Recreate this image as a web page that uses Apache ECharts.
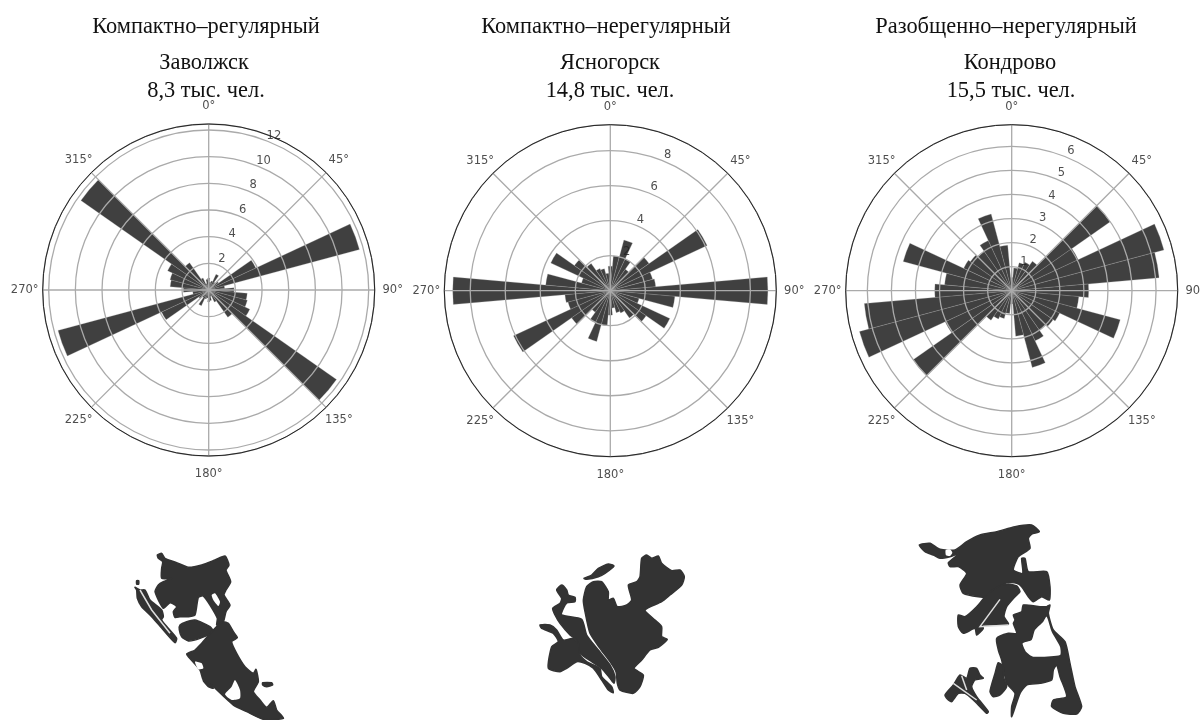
<!DOCTYPE html>
<html>
<head>
<meta charset="utf-8">
<title>Ориентация улиц</title>
<script src="https://cdn.jsdelivr.net/npm/echarts@6/dist/echarts.min.js"></script>
<style>
  html, body { margin: 0; padding: 0; background: #fff; }
  #chart { width: 1201px; height: 720px; }
</style>
</head>
<body>
<div id="chart"></div>
<script>
// bins of 10 degrees, bin 0 is centered on north
const bins = ['0', '10', '20', '30', '40', '50', '60', '70', '80', '90', '100', '110',
  '120', '130', '140', '150', '160', '170', '180', '190', '200', '210', '220', '230',
  '240', '250', '260', '270', '280', '290', '300', '310', '320', '330', '340', '350']

const zavolzhsk = [0.9, 0.6, 0.7, 1.3, 0.7, 0.9, 3.9, 11.7, 1.2, 1.9, 2.9, 3.0,
  3.4, 11.7, 2.5, 1.0, 0.5, 0.8, 0.9, 0.6, 0.7, 1.3, 0.7, 0.9,
  3.9, 11.7, 1.2, 1.9, 2.9, 3.0, 3.4, 11.7, 2.5, 1.0, 0.5, 0.8]
const yasnogorsk = [1.4, 2.0, 3.0, 2.0, 1.5, 2.7, 6.1, 2.5, 2.6, 9.0, 3.7, 1.7,
  3.75, 2.5, 1.9, 1.4, 1.3, 1.0, 1.4, 2.0, 3.0, 2.0, 1.5, 2.7,
  6.1, 2.5, 2.6, 9.0, 3.7, 1.7, 3.75, 2.5, 1.9, 1.4, 1.3, 1.0]
const kondrovo = [0.55, 0.95, 1.2, 1.3, 1.5, 5.0, 3.05, 6.55, 6.15, 3.2, 2.8, 4.67,
  2.2, 2.1, 2.0, 2.3, 3.3, 1.9, 0.55, 0.95, 1.2, 1.3, 1.5, 5.0,
  3.05, 6.55, 6.15, 3.2, 2.8, 4.67, 2.2, 2.1, 2.0, 2.3, 3.3, 1.9]

const angleTicks = [0, 45, 90, 135, 180, 225, 270, 315]
const zavolzhskTicks = [2, 4, 6, 8, 10, 12]
const yasnogorskTicks = [2, 4, 6, 8]
const kondrovoTicks = [1, 2, 3, 4, 5, 6]

// подписи над диаграммами: текст, центр по x, центр по y
const titleLines = [
  ['Компактно–регулярный', 206, 26], ['Заволжск', 204, 62], ['8,3 тыс. чел.', 206, 90],
  ['Компактно–нерегулярный', 606, 26], ['Ясногорск', 610, 62], ['14,8 тыс. чел.', 610, 90],
  ['Разобщенно–нерегулярный', 1006, 26], ['Кондрово', 1010, 62], ['15,5 тыс. чел.', 1011, 90],
]

const panels = [
  { values: zavolzhsk, ticks: zavolzhskTicks, step: 2, max: 12.45, cx: 208.7, cy: 290 },
  { values: yasnogorsk, ticks: yasnogorskTicks, step: 2, max: 9.48, cx: 610.3, cy: 290.7 },
  { values: kondrovo, ticks: kondrovoTicks, step: 1, max: 6.9, cx: 1011.7, cy: 290.7 },
]

// силуэты городов, контуры (в координатах кропа, масштаб 3)
const maps = [
  {
    x: 120, y: 510,
    dark: [
      [112,135,125,130,135,145,170,158,205,172,245,165,285,150,315,138,327,165,318,180,332,215,318,240,312,255,330,285,318,305,310,335,290,345,292,325,270,285,250,258,235,262,225,315,205,320,180,320,165,322,160,305,170,290,150,278,130,295,105,245,115,225,130,215,155,205,125,205,125,175,128,155,115,145],
      [180,345,200,335,225,330,270,350,280,365,240,385,205,393,185,380,178,360],
      [310,335,325,340,340,365,352,383,335,395,350,430,375,470,400,490,408,478,415,515,400,545,420,570,440,592,460,572,470,600,490,625,430,628,380,605,340,585,312,560,280,530,250,510,240,480,205,440,200,432,225,420,240,405,275,365,295,345],
      [250,512,275,525,280,535,265,530],
      [428,518,455,518,458,525,440,530,428,525],
      [45,232,60,240,75,240,90,270,125,300,130,320,125,330,145,355,170,385,165,398,130,360,95,320,65,290,52,265,50,240],
      [50,212,56,212,56,222,50,222],
    ],
    light: [
      [275,255,285,250,300,275,295,288,280,270],
      [345,510,360,540,360,565,335,570,315,553,335,530],
      [225,455,245,460,250,475,235,478],
    ],
    lines: [[60,240,95,300,150,370]],
  },
  {
    x: 530, y: 540,
    dark: [
      [165,215,160,180,170,140,190,125,215,125,235,155,235,180,250,175,262,200,290,195,305,180,295,135,320,125,330,110,335,55,350,45,365,55,385,48,395,70,425,92,450,90,463,110,455,135,420,165,395,185,345,210,375,240,395,260,395,290,412,298,385,322,360,330,335,360,312,385,340,405,330,440,310,460,270,450,262,430,258,395,240,365,210,325,180,280],
      [80,150,95,135,110,150,115,165,135,172,135,185,112,188,100,205,95,225,155,238,170,285,205,330,240,375,255,410,252,430,240,415,215,385,185,365,150,340,140,300,120,285,90,250,75,225,68,205,90,190,95,175],
      [30,255,60,255,80,270,100,300,130,295,145,310,150,345,170,365,210,385,215,410,245,440,250,458,235,450,215,420,190,385,165,370,140,365,110,385,90,395,55,385,65,320,85,305,70,280,35,265],
      [162,115,185,105,205,85,235,72,252,78,225,100,205,110,170,118],
    ],
    light: [],
    lines: [],
  },
  {
    x: 900, y: 510,
    dark: [
      [58,105,90,100,120,118,165,120,200,95,240,75,290,65,345,50,395,45,418,65,395,72,385,85,390,115,355,140,340,180,368,190,365,145,375,145,385,185,440,185,450,230,448,270,425,260,400,275,385,260,365,230,350,220,320,218,295,235,270,260,235,260,190,250,180,225,200,190,175,170,150,170,145,158,178,130,150,140,120,145,100,135,75,125],
      [175,315,195,320,230,290,260,255,295,230,325,222,350,228,360,245,345,260,320,290,312,320,325,342,245,345,250,355,230,375,225,355,190,370,175,350],
      [340,315,365,305,370,285,420,290,440,290,450,285,445,310,460,360,495,395,510,460,525,530,545,590,530,612,490,610,455,590,460,570,500,560,480,500,470,465,460,480,455,510,420,520,380,525,360,550,335,620,335,590,345,550,320,520,305,450,295,420,290,385,325,370,350,370,340,340,345,330],
      [270,545,285,490,295,458,310,470,310,500,320,530,300,555,280,560],
      [135,555,160,525,180,495,200,505,210,475,230,475,240,495,250,505,225,510,215,530,230,560,265,605,260,610,220,570,195,550,175,550,155,575,145,570],
    ],
    light: [
      [368,400,395,390,405,360,430,335,440,320,455,365,480,410,480,435,400,440,378,425],
      [137,120,150,118,157,128,150,138,138,136],
    ],
    lines: [[300,268,240,350,325,345], [160,520,230,570], [185,497,200,540]],
  },
]

function toPoints (m, flat) {
  const pts = []
  for (let i = 0; i < flat.length; i += 2) {
    pts.push([m.x + flat[i] / 3, m.y + flat[i + 1] / 3])
  }
  return pts
}

const labelStyle = { color: '#222', fontSize: 11.5, fontFamily: 'DejaVu Sans' }

const polar = []
const angleAxis = []
const radiusAxis = []
const series = []

panels.forEach((p, i) => {
  // первый polar: сетка и подписи, второй: столбцы (бины центрированы на 0, 10, 20...)
  const gridIndex = i * 2
  const barIndex = i * 2 + 1
  polar.push({ center: [p.cx, p.cy], radius: 166 }, { center: [p.cx, p.cy], radius: 166 })

  angleAxis.push({
    polarIndex: gridIndex,
    type: 'value',
    min: 0,
    max: 360,
    interval: 45,
    startAngle: 90,
    z: 5,
    axisLine: { lineStyle: { color: '#222', width: 1 } },
    axisTick: { show: false },
    axisLabel: { show: false },
    splitLine: { lineStyle: { color: '#aaa', width: 1.3 } },
  }, {
    polarIndex: barIndex,
    type: 'category',
    data: bins,
    startAngle: 95,
    show: false,
  })

  radiusAxis.push({
    polarIndex: gridIndex,
    type: 'value',
    min: 0,
    max: p.max,
    interval: p.step,
    z: 5,
    axisLine: { show: false },
    axisTick: { show: false },
    axisLabel: { show: false },
    splitLine: { lineStyle: { color: '#aaa', width: 1.3 } },
  }, {
    polarIndex: barIndex,
    type: 'value',
    min: 0,
    max: p.max,
    show: false,
  })

  series.push({
    type: 'bar',
    coordinateSystem: 'polar',
    polarIndex: barIndex,
    data: p.values,
    barWidth: '100%',
    barCategoryGap: '0%',
    z: 2,
    silent: true,
    itemStyle: { color: '#404040', borderColor: 'rgba(170,170,170,0.5)', borderWidth: 0.5 },
  }, {
    // подписи радиуса, как в matplotlib, лежат на луче 23 градуса
    type: 'scatter',
    coordinateSystem: 'polar',
    polarIndex: gridIndex,
    data: p.ticks.map(t => [t, 23]),
    symbolSize: 0,
    z: 8,
    silent: true,
    label: {
      show: true,
      position: 'inside',
      offset: [2.7, -6.5],
      formatter: d => d.value[0],
      ...labelStyle,
    },
  }, {
    // подписи углов центрированы на одном расстоянии от окружности
    type: 'scatter',
    coordinateSystem: 'polar',
    polarIndex: gridIndex,
    data: angleTicks.map(a => ({
      value: [p.max, a],
      label: {
        offset: [18 * Math.sin(a * Math.PI / 180), -18 * Math.cos(a * Math.PI / 180)],
      },
    })),
    symbolSize: 0,
    z: 8,
    silent: true,
    label: {
      show: true,
      position: 'inside',
      formatter: d => d.value[1] + '°',
      ...labelStyle,
    },
  })
})

const graphicEls = []
maps.forEach(m => {
  m.dark.forEach(flat => {
    graphicEls.push({
      type: 'polygon',
      shape: { points: toPoints(m, flat), smooth: 0.2 },
      style: { fill: '#333', stroke: '#333', lineWidth: 1.5, lineJoin: 'round' },
    })
  })
  m.light.forEach(flat => {
    graphicEls.push({
      type: 'polygon',
      z: 101,
      shape: { points: toPoints(m, flat), smooth: 0.2 },
      style: { fill: '#fff' },
    })
  })
  m.lines.forEach(flat => {
    graphicEls.push({
      type: 'polyline',
      z: 102,
      shape: { points: toPoints(m, flat) },
      style: { fill: null, stroke: '#ddd', lineWidth: 1.5 },
    })
  })
})

const chart = echarts.init(document.getElementById('chart'))
chart.setOption({
  animation: false,
  backgroundColor: '#fff',
  title: titleLines.map(t => ({
    text: t[0],
    left: t[1],
    top: t[2] - 10,
    textAlign: 'center',
    padding: 0,
    textStyle: {
      fontFamily: 'Liberation Serif',
      fontWeight: 'normal',
      fontSize: 22.4,
      color: '#111',
    },
  })),
  polar,
  angleAxis,
  radiusAxis,
  series,
  graphic: graphicEls,
})
</script>
</body>
</html>
